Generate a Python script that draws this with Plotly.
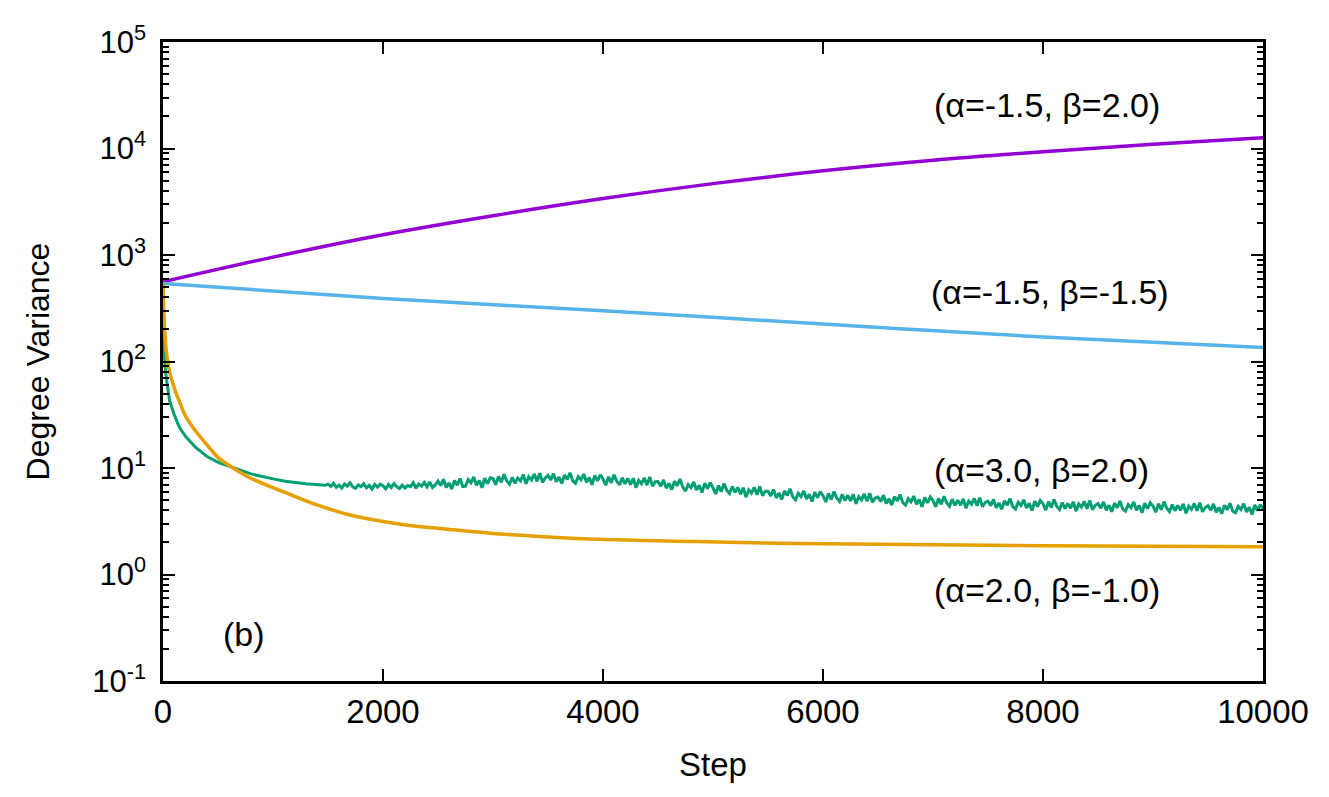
"""Degree variance versus step for four (alpha, beta) settings, log y axis"""
import plotly.graph_objects as go

FONT = "Liberation Sans, Arial, Helvetica, sans-serif"

# (alpha=-1.5, beta=2.0)
purple_x = [0, 1000, 2000, 3000, 4000, 5000, 6000, 7000, 8000, 9000, 10000]
purple_y = [560, 955, 1550, 2340, 3390, 4680, 6170, 7760, 9330, 10960, 12600]

# (alpha=-1.5, beta=-1.5)
blue_x = [0, 2000, 4000, 6000, 8000, 10000]
blue_y = [540, 390, 300, 225, 170, 135]

# (alpha=2.0, beta=-1.0)
orange_x = [0, 10, 30, 60, 90, 120, 150, 180, 210, 250, 300, 400, 510, 600, 800, 1110, 1400,
            1710, 2160, 2610, 3060, 3500, 3960, 4860, 5770, 7000, 8500, 10000]
orange_y = [540, 250, 124, 80, 62, 50, 42, 35, 30, 26, 22, 16.5, 12.3, 10.6, 8.0, 5.9, 4.5,
            3.6, 2.97, 2.65, 2.4, 2.25, 2.14, 2.04, 1.95, 1.9, 1.85, 1.82]

# (alpha=3.0, beta=2.0): fast initial drop, then a noisy plateau
green_head_x = [0, 8, 15, 30, 60, 100, 150, 210, 300, 400, 510, 600, 800, 1000, 1110, 1300, 1475]
green_head_y = [540, 200, 100, 70, 43, 32, 24, 19.5, 15.5, 12.8, 11.2, 10.4, 8.8, 7.9, 7.5, 7.1, 6.9]
green_tail_x = list(range(1500, 10001, 25))
green_tail_y = [
    7.06, 6.71, 7.19, 6.58, 6.92, 6.47, 7.09, 6.75, 7.26, 6.64,
    6.45, 6.92, 6.68, 7.12, 6.51, 6.85, 6.35, 7.02, 6.62, 7.05,
    6.82, 6.38, 6.99, 6.55, 7.16, 6.65, 6.42, 6.92, 6.48, 6.85,
    6.69, 7.28, 6.45, 7.07, 6.76, 7.31, 6.66, 7.38, 6.56, 6.93,
    7.55, 6.84, 7.83, 6.55, 7.26, 6.34, 7.62, 6.91, 7.97, 6.69,
    6.75, 7.79, 7.27, 8.24, 6.90, 7.64, 6.53, 8.01, 7.12, 8.09,
    7.95, 6.95, 8.34, 7.33, 8.72, 7.57, 7.03, 8.18, 7.18, 8.03,
    7.57, 8.69, 7.09, 8.29, 7.73, 8.77, 7.49, 8.93, 7.33, 8.05,
    8.53, 7.73, 8.86, 7.41, 8.21, 7.16, 8.61, 7.81, 9.02, 7.57,
    7.19, 8.30, 7.74, 8.77, 7.35, 8.14, 6.95, 8.53, 7.58, 8.61,
    7.88, 6.89, 8.26, 7.27, 8.64, 7.50, 6.96, 8.11, 7.11, 7.96,
    6.98, 8.01, 6.54, 7.64, 7.13, 8.09, 6.91, 8.23, 6.76, 7.42,
    7.45, 6.75, 7.73, 6.47, 7.17, 6.26, 7.52, 6.82, 7.87, 6.61,
    6.08, 7.01, 6.55, 7.41, 6.21, 6.88, 5.88, 7.21, 6.41, 7.28,
    6.52, 5.70, 6.84, 6.01, 7.15, 6.20, 5.76, 6.71, 5.89, 6.58,
    5.68, 6.52, 5.32, 6.22, 5.80, 6.58, 5.62, 6.70, 5.50, 6.04,
    6.04, 5.47, 6.27, 5.24, 5.81, 5.07, 6.10, 5.53, 6.38, 5.36,
    5.01, 5.78, 5.39, 6.11, 5.12, 5.67, 4.84, 5.94, 5.28, 6.00,
    5.49, 4.80, 5.76, 5.06, 6.02, 5.22, 4.85, 5.65, 4.96, 5.54,
    4.92, 5.65, 4.61, 5.39, 5.02, 5.70, 4.87, 5.80, 4.77, 5.23,
    5.34, 4.84, 5.54, 4.64, 5.14, 4.49, 5.39, 4.89, 5.64, 4.74,
    4.47, 5.16, 4.81, 5.45, 4.57, 5.06, 4.32, 5.30, 4.71, 5.35,
    4.94, 4.32, 5.18, 4.56, 5.42, 4.70, 4.37, 5.09, 4.46, 4.99,
    4.47, 5.12, 4.18, 4.89, 4.56, 5.17, 4.42, 5.26, 4.32, 4.75,
    4.89, 4.43, 5.07, 4.24, 4.70, 4.10, 4.93, 4.47, 5.16, 4.33,
    4.12, 4.76, 4.44, 5.03, 4.21, 4.67, 3.99, 4.89, 4.35, 4.94,
    4.60, 4.02, 4.83, 4.25, 5.05, 4.38, 4.07, 4.74, 4.16, 4.65,
    4.20, 4.82, 3.93, 4.60, 4.29, 4.86, 4.15, 4.95, 4.07, 4.46,
    4.63, 4.20, 4.81, 4.02, 4.46, 3.89, 4.68, 4.24, 4.89, 4.11,
    3.93, 4.54, 4.23, 4.80, 4.02, 4.45, 3.80, 4.67, 4.15, 4.71,
    4.40, 3.84, 4.61, 4.06, 4.83, 4.18, 3.89, 4.53, 3.97, 4.44,
    4.01, 4.60, 3.76, 4.39, 4.09, 4.64, 3.97, 4.73, 3.88, 4.26,
    4.43, 4.01, 4.60, 3.85, 4.26, 3.72, 4.47, 4.05, 4.68, 3.93,
    3.79, 4.37, 4.08, 4.62, 3.87, 4.28, 3.66, 4.49, 3.99, 4.53,
    4.15,
]
green_x = green_head_x + green_tail_x
green_y = green_head_y + green_tail_y

x_ticks = [0, 2000, 4000, 6000, 8000, 10000]
x_ticktext = ["0", "2000", "4000", "6000", "8000", "10000"]
y_ticks = [0.1, 1, 10, 100, 1000, 10000, 100000]
y_ticktext = ["10<sup>-1</sup>", "10<sup>0</sup>", "10<sup>1</sup>", "10<sup>2</sup>",
              "10<sup>3</sup>", "10<sup>4</sup>", "10<sup>5</sup>"]
y_minor = [m * d for d in [0.1, 1, 10, 100, 1000, 10000] for m in range(2, 10)]

# label text, step position, log10 of value
labels = [
    ("(α=-1.5, β=2.0)", 8040, 4.41),
    ("(α=-1.5, β=-1.5)", 8060, 2.65),
    ("(α=3.0, β=2.0)", 7990, 0.98),
    ("(α=2.0, β=-1.0)", 8040, -0.15),
    ("(b)", 740, -0.56),
]

fig = go.Figure(
    data=[
        go.Scatter(x=purple_x, y=purple_y, mode="lines", line=dict(color="#9400D3", width=3.5, shape="spline")),
        go.Scatter(x=blue_x, y=blue_y, mode="lines", line=dict(color="#56B4E9", width=3.5, shape="spline")),
        go.Scatter(x=green_x, y=green_y, mode="lines", line=dict(color="#009E73", width=3)),
        go.Scatter(x=orange_x, y=orange_y, mode="lines", line=dict(color="#E69F00", width=3.5, shape="spline")),
    ]
)

for text, lx, ly in labels:
    fig.add_annotation(x=lx, y=ly, xref="x", yref="y", text=text, showarrow=False,
                       font=dict(family=FONT, size=34, color="black"))

# the page body adds an 8px margin, so the figure is a bit smaller than the window
fig.update_layout(
    width=1313,
    height=781,
    showlegend=False,
    plot_bgcolor="white",
    paper_bgcolor="white",
    margin=dict(l=155, r=47, t=25, b=104),
    font=dict(family=FONT, size=32, color="black"),
    xaxis=dict(
        range=[0, 10000],
        tickvals=x_ticks,
        ticktext=x_ticktext,
        tickfont=dict(size=33),
        ticklabeloverflow="allow",
        ticks="inside",
        ticklen=12,
        tickwidth=2,
        tickcolor="black",
        showline=True,
        linewidth=2.5,
        linecolor="black",
        mirror="ticks",
        showgrid=False,
        zeroline=False,
        title=dict(text="Step", standoff=24, font=dict(size=33)),
    ),
    yaxis=dict(
        type="log",
        range=[-1, 5],
        tickvals=y_ticks,
        ticktext=y_ticktext,
        tickfont=dict(size=31),
        ticklabeloverflow="allow",
        ticks="inside",
        ticklen=12,
        tickwidth=2,
        tickcolor="black",
        minor=dict(tickvals=y_minor, ticks="inside", ticklen=6, tickwidth=2, tickcolor="black", showgrid=False),
        showline=True,
        linewidth=2.5,
        linecolor="black",
        mirror="ticks",
        showgrid=False,
        zeroline=False,
        ticklabelstandoff=8,
        title=dict(text="Degree Variance", standoff=34, font=dict(size=32)),
    ),
)

fig.write_html("out.html")
